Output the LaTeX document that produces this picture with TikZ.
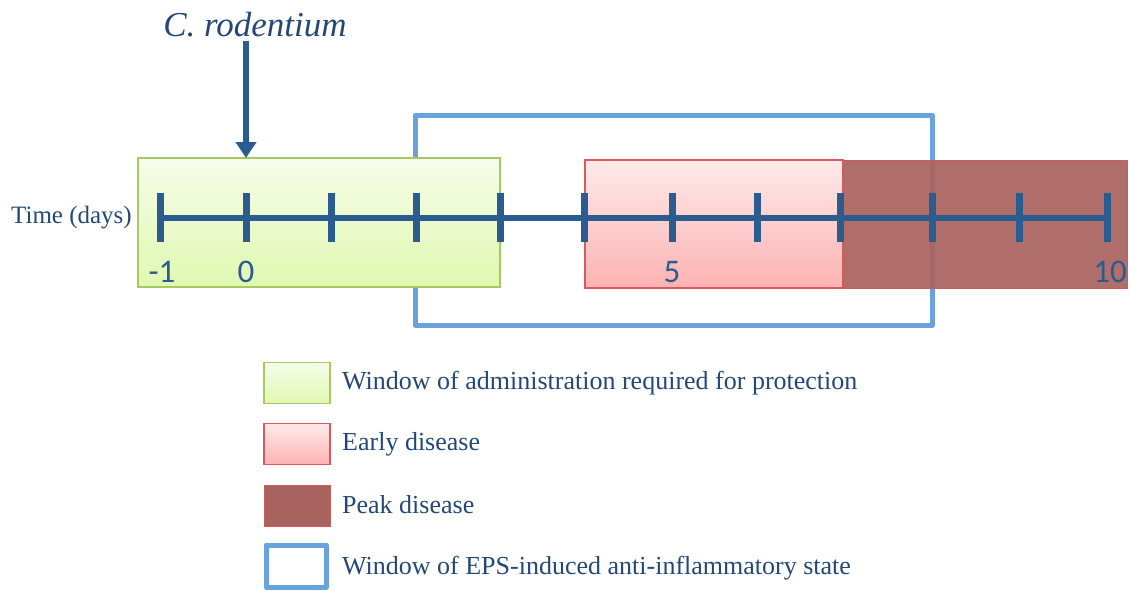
\documentclass[tikz,border=0pt]{standalone}
\usepackage{fontspec}
\setmainfont{Liberation Serif}
\newfontfamily\numfont{Carlito}
\usetikzlibrary{positioning,arrows.meta}
\definecolor{axisblue}{RGB}{42,92,143}
\definecolor{textblue}{RGB}{35,72,120}
\definecolor{frameblue}{RGB}{106,162,220}
\definecolor{greentop}{RGB}{246,252,234}
\definecolor{greenbot}{RGB}{224,248,176}
\definecolor{greenedge}{RGB}{168,200,96}
\definecolor{pinktop}{RGB}{254,234,234}
\definecolor{pinkbot}{RGB}{253,178,178}
\definecolor{pinkedge}{RGB}{216,90,90}
\definecolor{peakred}{RGB}{169,99,95}

\tikzset{
  protectbox/.style={draw=greenedge,line width=1.5pt,top color=greentop,bottom color=greenbot},
  earlybox/.style={draw=pinkedge,line width=1.5pt,top color=pinktop,bottom color=pinkbot},
  peakbox/.style={draw=pinkedge!70!peakred,line width=1pt,fill=peakred,fill opacity=0.93},
  epsframe/.style={draw=frameblue,line width=5pt,line join=round},
  legbox/.style={minimum width=66pt,minimum height=41pt,inner sep=0pt},
  legtext/.style={text=textblue,font=\fontsize{26}{30}\selectfont,inner sep=0pt,anchor=west},
  daynum/.style={text=axisblue,font=\numfont\fontsize{33}{37}\selectfont,inner sep=0pt}
}

\begin{document}
\begin{tikzpicture}[x=1pt,y=-1pt]
  \useasboundingbox (0,0) rectangle (1129,590);
  \foreach \x [count=\i from 0] in {160,246,331,416,500,584,672,757,840,932,1019,1107}
    \coordinate (t\i) at (\x,218);
  \draw[epsframe] (415,115) rectangle (932,325);
  \draw[protectbox] (138,158) rectangle (500,287);
  \draw[earlybox] (585,160) rectangle (843,288);
  \draw[peakbox] (843,160) rectangle (1127,288);
  \draw[axisblue,line width=6pt] (t0) -- (t11);
  \foreach \i in {0,...,11}
    \draw[axisblue,line width=7pt] ([yshift=-24pt]t\i) -- ([yshift=25pt]t\i);
  \node[daynum] (dm1) at (162,272) {-1};
  \node[daynum] (d0) at (t1 |- dm1) {0};
  \node[daynum] (d5) at (t6 |- dm1) {5};
  \node[daynum] (d10) at (1110,272) {10};
  \node[text=textblue,font=\fontsize{25}{29}\selectfont,anchor=east,inner sep=0pt] (timelbl) at (132,218) {Time (days)};
  \node[text=textblue,font=\itshape\fontsize{35}{39}\selectfont] (pathogen) at (255,25) {C. rodentium};
  \coordinate (hit) at (t1 |- 0,158);
  \draw[axisblue,line width=6pt,-{Triangle[length=16pt,width=20pt]}] (pathogen.south -| hit) -- (hit);
  \node[protectbox,legbox] (legprotect) at (297,383) {};
  \node[earlybox,legbox] (legearly) at (297,444) {};
  \node[peakbox,fill opacity=1,legbox] (legpeak) at (297,506) {};
  \node[epsframe,legbox,minimum width=60pt,minimum height=42pt] (legeps) at (296,566) {};
  \node[legtext] (txtprotect) at (342,383) {Window of administration required for protection};
  \node[legtext] (txtearly) at (342,444) {Early disease};
  \node[legtext] (txtpeak) at (342,505) {Peak disease};
  \node[legtext] (txteps) at (342,568) {Window of EPS-induced anti-inflammatory state};
\end{tikzpicture}
\end{document}
